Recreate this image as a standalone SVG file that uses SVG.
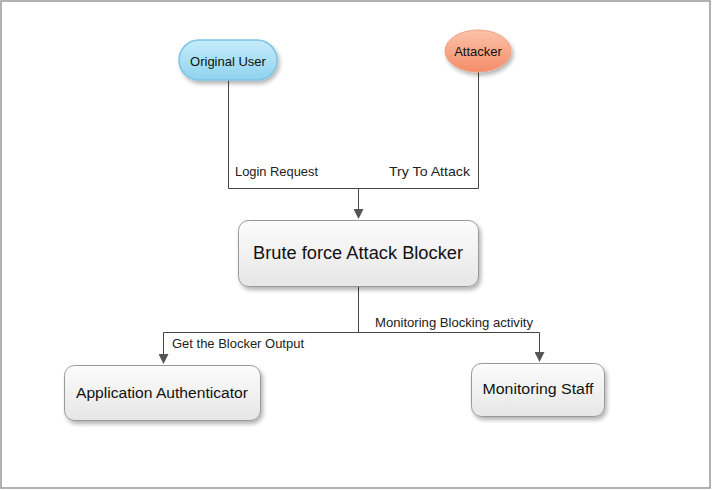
<svg xmlns="http://www.w3.org/2000/svg" width="712" height="490" viewBox="0 0 712 490">
<defs>
<linearGradient id="gBox" x1="0" y1="0" x2="0" y2="1"><stop offset="0" stop-color="#fcfcfc"/><stop offset="1" stop-color="#e6e6e6"/></linearGradient>
<linearGradient id="gBlue" x1="0" y1="0" x2="0" y2="1"><stop offset="0" stop-color="#c6ecfb"/><stop offset="1" stop-color="#8fd3f0"/></linearGradient>
<linearGradient id="gOrange" x1="0" y1="0" x2="0" y2="1"><stop offset="0" stop-color="#fcc3aa"/><stop offset="1" stop-color="#f48c68"/></linearGradient>
<filter id="sh" x="-20%" y="-20%" width="140%" height="150%"><feGaussianBlur in="SourceAlpha" stdDeviation="2"/><feOffset dx="2" dy="3"/><feComponentTransfer><feFuncA type="linear" slope="0.3"/></feComponentTransfer><feMerge><feMergeNode/><feMergeNode in="SourceGraphic"/></feMerge></filter>
<marker id="arr" markerWidth="10" markerHeight="10" refX="9" refY="5" orient="auto" markerUnits="userSpaceOnUse"><path d="M0,0 L10,5 L0,10 z" fill="#555"/></marker>
</defs>
<style>
.lbl{font-family:"Liberation Sans",Arial,sans-serif;font-size:13px;fill:#222}
.nt{font-family:"Liberation Sans",Arial,sans-serif;font-size:15.5px;fill:#111;text-anchor:middle}
.box{fill:url(#gBox);stroke:#999;stroke-width:1}
.ln{fill:none;stroke:#444;stroke-width:1}
</style>
<rect x="1" y="1" width="709" height="487" fill="#fff" stroke="#999" stroke-width="1.5"/>
<g id="connectors">
<path class="ln" d="M228.5,80 V188.5 H478.5 V72"/>
<path class="ln" d="M358.5,188.5 V218" marker-end="url(#arr)"/>
<path class="ln" d="M358.5,287 V332.5"/>
<path class="ln" d="M358.5,332.5 H163.5 V363" marker-end="url(#arr)"/>
<path class="ln" d="M358.5,332.5 H539.5 V361" marker-end="url(#arr)"/>
<text class="lbl" x="235" y="176" textLength="83" lengthAdjust="spacingAndGlyphs">Login Request</text>
<text class="lbl" x="389" y="176" textLength="81" lengthAdjust="spacingAndGlyphs">Try To Attack</text>
<text class="lbl" x="375" y="327" textLength="158" lengthAdjust="spacingAndGlyphs">Monitoring Blocking activity</text>
<text class="lbl" x="172" y="348" textLength="132" lengthAdjust="spacingAndGlyphs">Get the Blocker Output</text>
</g>
<g id="original-user">
<rect x="179" y="40" width="98" height="40" rx="20" fill="url(#gBlue)" stroke="#7cc5e4" stroke-width="1.5" filter="url(#sh)"/>
<text class="nt" x="228" y="65.5" style="font-size:13px">Original User</text>
</g>
<g id="attacker">
<ellipse cx="478" cy="51" rx="33" ry="21" fill="url(#gOrange)" stroke="#f0a080" stroke-width="1" filter="url(#sh)"/>
<text class="nt" x="478" y="55.5" style="font-size:13px">Attacker</text>
</g>
<g id="blocker">
<rect class="box" x="238.5" y="220.5" width="240" height="66" rx="10" filter="url(#sh)"/>
<text class="nt" x="358" y="259" style="font-size:17.5px" textLength="210" lengthAdjust="spacingAndGlyphs">Brute force Attack Blocker</text>
</g>
<g id="app-auth">
<rect class="box" x="64.5" y="365.5" width="196" height="55" rx="10" filter="url(#sh)"/>
<text class="nt" x="162" y="398" textLength="172" lengthAdjust="spacingAndGlyphs">Application Authenticator</text>
</g>
<g id="monitoring-staff">
<rect class="box" x="471.5" y="363.5" width="133" height="53" rx="10" filter="url(#sh)"/>
<text class="nt" x="538" y="394" textLength="111" lengthAdjust="spacingAndGlyphs">Monitoring Staff</text>
</g>
</svg>
